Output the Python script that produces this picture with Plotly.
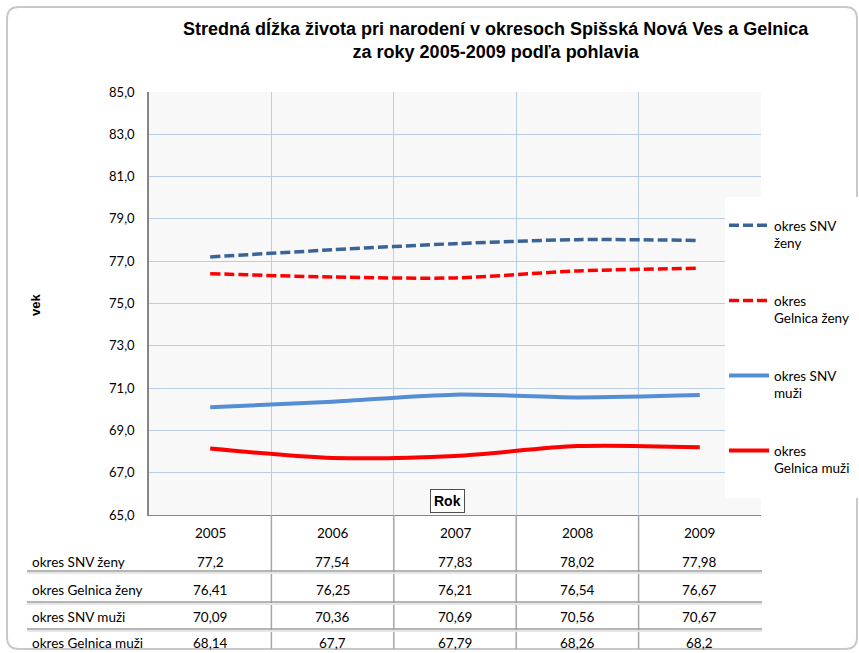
import plotly.graph_objects as go

years = ["2005", "2006", "2007", "2008", "2009"]
series_names = ["okres SNV ženy", "okres Gelnica ženy", "okres SNV muži", "okres Gelnica muži"]
legend_labels = ["okres SNV<br>ženy", "okres<br>Gelnica ženy", "okres SNV<br>muži", "okres<br>Gelnica muži"]
snv_zeny = [77.2, 77.54, 77.83, 78.02, 77.98]
gelnica_zeny = [76.41, 76.25, 76.21, 76.54, 76.67]
snv_muzi = [70.09, 70.36, 70.69, 70.56, 70.67]
gelnica_muzi = [68.14, 67.7, 67.79, 68.26, 68.2]
y_ticks = [65, 67, 69, 71, 73, 75, 77, 79, 81, 83, 85]

series = [snv_zeny, gelnica_zeny, snv_muzi, gelnica_muzi]
colors = ["#3A6396", "#FF0000", "#558ED5", "#FF0000"]
widths = [3.5, 3.5, 4, 4]
dashes = ["10px,4px", "10px,4px", "solid", "solid"]

W, H = 859, 653
L, R, T, B = 149, 761, 92, 515
pw, ph = R - L, B - T


def px(xp):
    return (xp - L) / pw


def py(yp):
    return (B - yp) / ph


xs = list(range(len(years)))
FONT = "Lato"

fig = go.Figure()
for i, (vals, name) in enumerate(zip(series, legend_labels)):
    fig.add_trace(go.Scatter(
        x=xs, y=vals, mode="lines", name=name,
        line=dict(color=colors[i], width=widths[i], dash=dashes[i], shape="spline", smoothing=0.8),
        legendgroup=f"g{i}", hoverinfo="skip",
    ))

annotations = []
# title
annotations.append(dict(
    text="<b>Stredná dĺžka života pri narodení v okresoch Spišská Nová Ves a Gelnica<br>za roky 2005-2009 podľa pohlavia</b>",
    xref="paper", yref="paper", x=px(496), y=py(40), showarrow=False,
    font=dict(family="Liberation Sans", size=18, color="#000000"), xanchor="center", yanchor="middle",
))
# y axis title
annotations.append(dict(
    text="<b>vek</b>", xref="paper", yref="paper", x=px(35), y=py(305), showarrow=False,
    xanchor="center", yanchor="middle",
    textangle=-90, font=dict(family="Liberation Sans", size=13, color="#000000"),
))
# Rok box
annotations.append(dict(
    text="<b>Rok</b>", xref="paper", yref="paper", x=px(447), y=py(501), showarrow=False,
    xanchor="center", yanchor="middle",
    font=dict(family="Liberation Sans", size=14, color="#000000"),
    bgcolor="#FFFFFF", bordercolor="#505050", borderwidth=1, borderpad=3,
))
# table header
for i, yr in enumerate(years):
    annotations.append(dict(text=yr, xref="x", yref="paper", x=i, y=py(533), showarrow=False,
                            xanchor="center", yanchor="middle",
                            font=dict(family=FONT, size=13.5, color="#000000")))
row_y = [562, 590, 617, 643]
for r, (name, vals) in enumerate(zip(series_names, series)):
    annotations.append(dict(text=name, xref="paper", yref="paper", x=px(30), y=py(row_y[r]),
                            xanchor="left", yanchor="middle", showarrow=False,
                            font=dict(family=FONT, size=13.5, color="#000000")))
    for i, v in enumerate(vals):
        annotations.append(dict(text=str(v).replace(".", ","), xref="x", yref="paper", x=i, y=py(row_y[r]),
                                xanchor="center", yanchor="middle",
                                showarrow=False, font=dict(family=FONT, size=13.5, color="#000000")))

shapes = []
# outer rounded frame
x0, y0, x1, y1, rr = px(7), py(7), px(857), py(649), 12
rx, ry = rr / pw, rr / ph
path = (f"M {x0+rx},{y0} L {x1-rx},{y0} Q {x1},{y0} {x1},{y0-ry} L {x1},{y1+ry} Q {x1},{y1} {x1-rx},{y1} "
        f"L {x0+rx},{y1} Q {x0},{y1} {x0},{y1+ry} L {x0},{y0-ry} Q {x0},{y0} {x0+rx},{y0} Z")
shapes.append(dict(type="path", path=path, xref="paper", yref="paper",
                   line=dict(color="#C8C8C8", width=2), layer="below"))
# legend white panel
shapes.append(dict(type="rect", xref="paper", yref="paper", x0=px(725), x1=px(859), y0=py(498), y1=py(197),
                   fillcolor="#FFFFFF", line=dict(width=0), layer="above"))
# table vertical dividers
for i in range(len(years) - 1):
    shapes.append(dict(type="line", xref="x", yref="paper", x0=i + 0.5, x1=i + 0.5, y0=0, y1=py(649),
                       line=dict(color="#A6A6A6", width=1.5)))
# table horizontal separators
for yy in [571, 602, 629]:
    shapes.append(dict(type="line", xref="paper", yref="paper", x0=px(27), x1=px(762), y0=py(yy + 2), y1=py(yy + 2),
                       line=dict(color="#E6E6E6", width=2)))
    shapes.append(dict(type="line", xref="paper", yref="paper", x0=px(27), x1=px(762), y0=py(yy), y1=py(yy),
                       line=dict(color="#9C9C9C", width=1.5)))

fig.update_layout(
    width=W, height=H,
    margin=dict(l=L, r=W - R, t=T, b=H - B, pad=0, autoexpand=False),
    paper_bgcolor="#FFFFFF", plot_bgcolor="#F8F8F8",
    separators=",.",
    showlegend=True,
    legend=dict(x=px(724), y=py(210), xanchor="left", yanchor="top", bgcolor="rgba(0,0,0,0)",
                font=dict(family=FONT, size=13.5, color="#000000"), tracegroupgap=37,
                valign="top", itemwidth=40),
    annotations=annotations,
    shapes=shapes,
    xaxis=dict(range=[-0.5, len(years) - 0.5], tickvals=[i - 0.5 for i in range(len(years) + 1)],
               showticklabels=False, showgrid=True, gridcolor="#B9CDE5", gridwidth=1,
               zeroline=False, showline=True, linecolor="#868686", linewidth=1, ticks=""),
    yaxis=dict(range=[65, 85], tickvals=y_ticks, tickformat=".1f", showgrid=True, gridcolor="#B9CDE5",
               gridwidth=1, zeroline=False, showline=True, linecolor="#868686", linewidth=1.5, ticks="",
               ticklabelstandoff=10,
               tickfont=dict(family=FONT, size=13, color="#000000")),
)

fig.write_html("out.html", config={"displayModeBar": False},
               post_script="document.body.style.margin='0';document.body.style.overflow='hidden';")
